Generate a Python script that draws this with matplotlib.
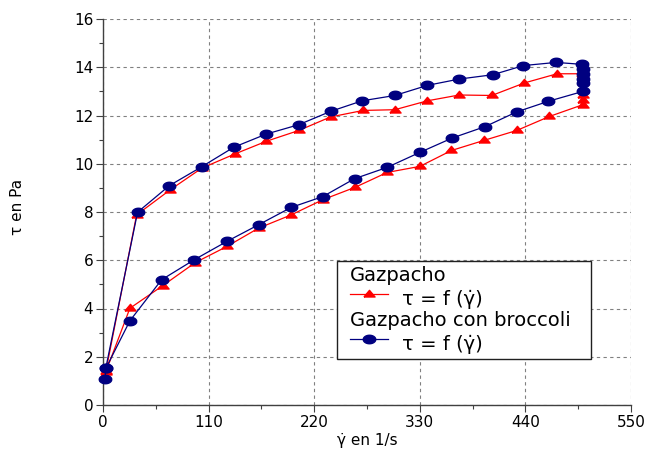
import numpy as np
import matplotlib.pyplot as plt
from matplotlib.patches import Rectangle
from matplotlib.lines import Line2D
from matplotlib.ticker import MultipleLocator

# shear rate (1/s) and shear stress (Pa): up ramp, hold at 500, down ramp
gaz_x = [3, 35, 70, 103, 137, 170, 204, 237, 271, 304, 338, 371, 405, 439, 473, 499,
         500, 500, 500, 500, 500,
         465, 431, 397, 363, 330, 296, 263, 229, 196, 162, 129, 96, 62, 28, 3]
gaz_y = [1.4, 7.88, 8.92, 9.82, 10.4, 10.93, 11.38, 11.94, 12.21, 12.24, 12.61, 12.85, 12.83, 13.35, 13.73, 13.73,
         13.4, 13.07, 12.86, 12.66, 12.45,
         11.96, 11.38, 10.97, 10.55, 9.89, 9.64, 9.03, 8.51, 7.88, 7.33, 6.57, 5.9, 4.94, 4.01, 1.38]

bro_x = [3, 36, 69, 103, 136, 170, 204, 237, 270, 304, 338, 371, 406, 438, 472, 499,
         500, 500, 500, 500, 500,
         464, 431, 398, 364, 330, 296, 262, 229, 196, 162, 129, 95, 61, 28, 3, 2]
bro_y = [1.55, 7.99, 9.09, 9.88, 10.68, 11.23, 11.62, 12.17, 12.61, 12.83, 13.25, 13.51, 13.69, 14.07, 14.2, 14.12,
         13.94, 13.73, 13.53, 13.35, 13.0,
         12.59, 12.15, 11.54, 11.07, 10.47, 9.85, 9.38, 8.64, 8.19, 7.47, 6.78, 6.02, 5.19, 3.49, 1.52, 1.07]

x_ticks = [0, 110, 220, 330, 440, 550]
y_ticks = [0, 2, 4, 6, 8, 10, 12, 14, 16]

W, H = 648, 458
def px(x, y):
    return x / W, 1 - y / H

t = np.linspace(0, 2 * np.pi, 40)
ellipse = list(zip(np.cos(t), 0.68 * np.sin(t)))
triangle = [(-1, -0.45), (1, -0.45), (0, 0.75), (-1, -0.45)]

fig = plt.figure(figsize=(6.48, 4.58), dpi=100)
ax = fig.add_axes([103 / W, 53 / H, 528 / W, 386 / H])

ax.plot(gaz_x, gaz_y, color="#ff0000", lw=0.9, marker=triangle, ms=8, mec="#ff0000", mfc="#ff0000", clip_on=False, zorder=3)
ax.plot(bro_x, bro_y, color="#000080", lw=0.9, marker=ellipse, ms=9, mec="#000080", mfc="#000080", clip_on=False, zorder=4)

ax.set_xlim(0, 550)
ax.set_ylim(0, 16)
ax.set_xticks(x_ticks)
ax.set_yticks(y_ticks)
ax.xaxis.set_minor_locator(MultipleLocator(55))
ax.yaxis.set_minor_locator(MultipleLocator(1))
ax.tick_params(which="major", length=5, width=0.8, color="#404040", labelsize=11, pad=2)
ax.tick_params(which="minor", length=3, width=0.8, color="#404040")
ax.grid(True, which="major", color="#808080", ls=(0, (3, 3)), lw=0.8)
for s in ["top", "right"]:
    ax.spines[s].set_visible(False)
for s in ["left", "bottom"]:
    ax.spines[s].set_color("#404040")
    ax.spines[s].set_linewidth(1.0)

fig.text(*px(17, 207), "τ en Pa", rotation=90, ha="center", va="center", fontsize=11)
fig.text(*px(367, 440), "γ\u0307 en 1/s", ha="center", va="center", fontsize=11)

# legend box
x0, y0 = px(337, 359)
x1, y1 = px(591, 261)
fig.add_artist(Rectangle((x0, y0), x1 - x0, y1 - y0, transform=fig.transFigure,
                         facecolor="white", edgecolor="#202020", lw=1.0, zorder=5))
fig.text(*px(350, 281), "Gazpacho", fontsize=14, va="baseline", zorder=6)
fig.text(*px(350, 326), "Gazpacho con broccoli", fontsize=14, va="baseline", zorder=6)
fig.text(*px(402, 305), "τ = f (γ\u0307)", fontsize=14, va="baseline", zorder=6)
fig.text(*px(402, 350), "τ = f (γ\u0307)", fontsize=14, va="baseline", zorder=6)
for yy, col, mk, ms in [(294, "#ff0000", triangle, 8), (339, "#000080", ellipse, 9)]:
    (a, b), (c, d) = px(350, yy), px(388, yy)
    fig.add_artist(Line2D([a, c], [b, d], transform=fig.transFigure, color=col, lw=0.9, zorder=6))
    e, f = px(369, yy)
    fig.add_artist(Line2D([e], [f], transform=fig.transFigure, color=col, marker=mk, ms=ms, zorder=7))

fig.savefig("out.png", dpi=100)
